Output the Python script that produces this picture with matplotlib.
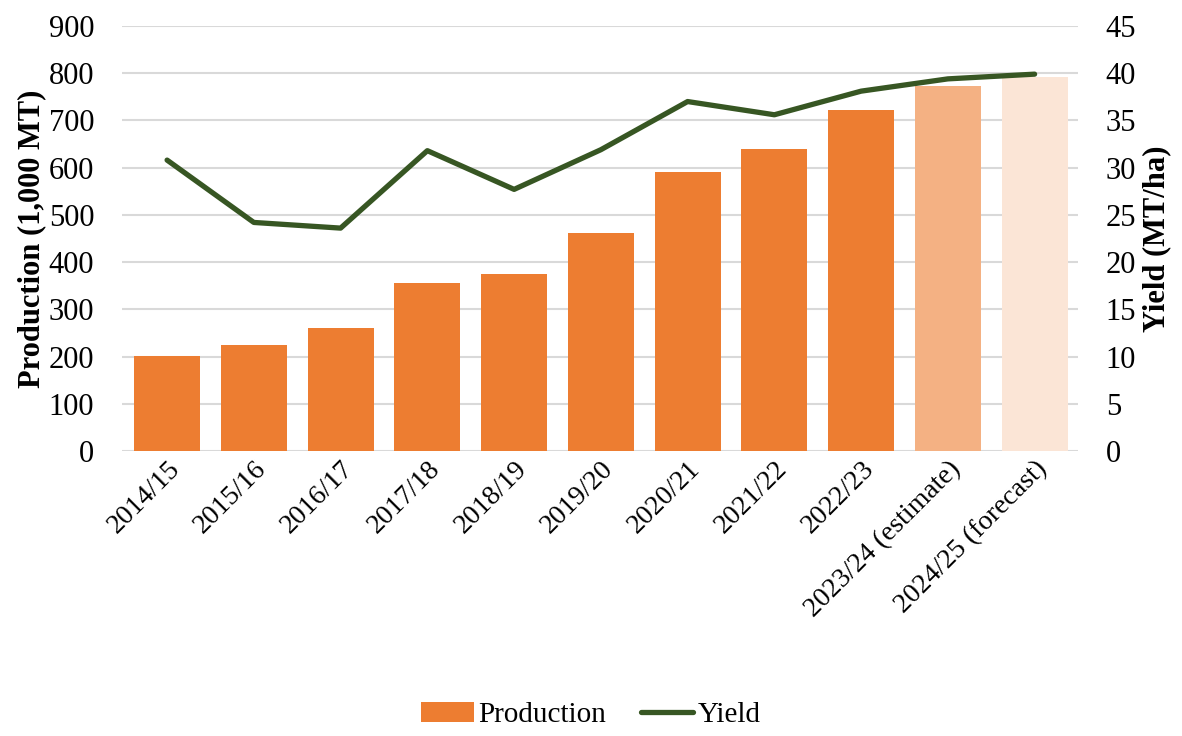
import matplotlib.pyplot as plt

years = ['2014/15', '2015/16', '2016/17', '2017/18', '2018/19', '2019/20',
         '2020/21', '2021/22', '2022/23', '2023/24 (estimate)', '2024/25 (forecast)']
production = [202, 225, 260, 355, 374, 461, 591, 640, 722, 772, 791]
yield_ha = [30.8, 24.2, 23.6, 31.8, 27.7, 31.9, 37.0, 35.6, 38.1, 39.4, 39.9]
bar_colors = ['#ed7d31'] * 9 + ['#f4b183', '#fbe5d6']

plt.rcParams['font.family'] = ['Liberation Serif', 'DejaVu Serif']

dpi = 100
fig = plt.figure(dpi=dpi, figsize=(1182 / dpi, 736 / dpi))
ax = fig.add_axes([0.1032, 0.3872, 0.8088, 0.5775])
ax2 = ax.twinx()

x = list(range(len(years)))
bars = ax.bar(x, production, width=0.76, color=bar_colors, zorder=2, label='Production')
line, = ax2.plot(x, yield_ha, color='#375623', linewidth=3.8, solid_capstyle='round',
                 label='Yield', zorder=3)

ax.set_ylim(0, 900)
ax.set_yticks(range(0, 901, 100))
ax2.set_ylim(0, 45)
ax2.set_yticks(range(0, 46, 5))
ax.set_xlim(-0.52, 10.5)

ax.yaxis.grid(True, color='#d9d9d9', linewidth=1.5, zorder=0)
ax.set_axisbelow(True)
for a in (ax, ax2):
    for s in a.spines.values():
        s.set_visible(False)
    a.tick_params(length=0, labelsize=22)
ax.tick_params(axis='y', pad=20)
ax2.tick_params(axis='y', pad=20)

ax.set_xticks(x)
ax.set_xticklabels(years, rotation=45, ha='right', rotation_mode='anchor', fontsize=20)
ax.tick_params(axis='x', pad=4)

ax.set_ylabel('Production (1,000 MT)', fontsize=22, fontweight='bold', labelpad=2)
ax2.set_ylabel('Yield (MT/ha)', fontsize=22, fontweight='bold', labelpad=4)

fig.legend([bars, line], ['Production', 'Yield'], loc='lower center',
           bbox_to_anchor=(0.5, -0.025), ncol=2, frameon=False, fontsize=21,
           handlelength=1.8, columnspacing=1.2, handletextpad=0.15)

fig.savefig('out.png', dpi=dpi)
